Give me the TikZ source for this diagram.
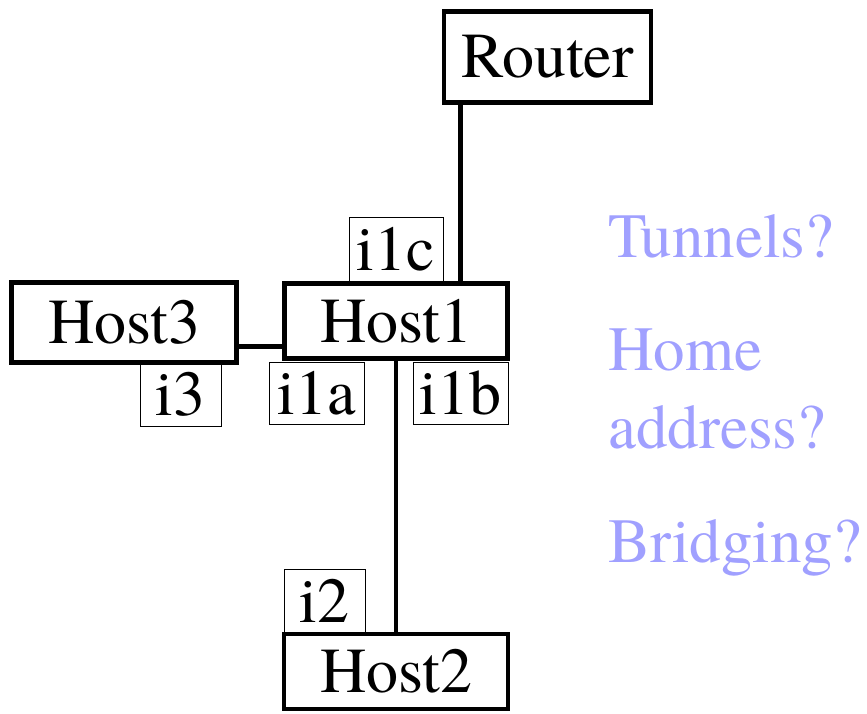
\documentclass[tikz,border=0pt]{standalone}
\usepackage{fontspec}
\newfontfamily\timesfont{TeX Gyre Termes}
\usetikzlibrary{positioning}
\definecolor{qblue}{HTML}{A0A0FF}
\tikzset{
  hostbox/.style={draw, line width=4.8pt, inner sep=0pt, fill=white,
    font=\timesfont\fontsize{64}{72}\selectfont},
  ifbox/.style={draw, line width=1pt, inner sep=0pt, fill=white,
    font=\timesfont\fontsize{64}{72}\selectfont},
  link/.style={line width=4.8pt},
  question/.style={text=qblue, anchor=base west, inner sep=0pt,
    font=\timesfont\fontsize{63}{71}\selectfont}
}
\begin{document}
\begin{tikzpicture}[x=1pt,y=-1pt]
  \useasboundingbox (0,0) rectangle (867,713);
  % interface labels (drawn first, hosts overlap them)
  \node[ifbox, minimum width=94pt, minimum height=65pt] (i1c) at (396,249.5) {i1c};
  \node[ifbox, minimum width=95pt, minimum height=62pt] (i1a) at (316.5,393) {i1a};
  \node[ifbox, minimum width=95pt, minimum height=62pt] (i1b) at (460.5,393) {i1b};
  \node[ifbox, minimum width=81pt, minimum height=63pt] (i3) at (180.5,394.5) {i3};
  \node[ifbox, minimum width=81pt, minimum height=64pt] (i2) at (324.5,601) {i2};
  % router and hosts
  \node[hostbox, minimum width=207pt, minimum height=91pt] (router) at (547.5,57) {Router};
  \node[hostbox, minimum width=223pt, minimum height=75pt] (host1) at (396,321) {Host1};
  \node[hostbox, minimum width=225pt, minimum height=80pt] (host3) at (124,322.5) {Host3};
  \node[hostbox, minimum width=224pt, minimum height=75pt] (host2) at (396,671.5) {Host2};
  % links
  \draw[link] (router.south -| i1b) -- (host1.north -| i1b);
  \draw[link] (host1.south) -- (host2.north);
  \draw[link] ([yshift=-24pt]host3.east) -- ([yshift=-24pt]host3.east -| host1.west);
  % open questions
  \foreach \y/\txt/\nm in {257/Tunnels?/tunnels, 370/Home/home,
      448/address?/address, 562/Bridging?/bridging}
    \node[question] (\nm) at (608,\y) {\txt};
\end{tikzpicture}
\end{document}
